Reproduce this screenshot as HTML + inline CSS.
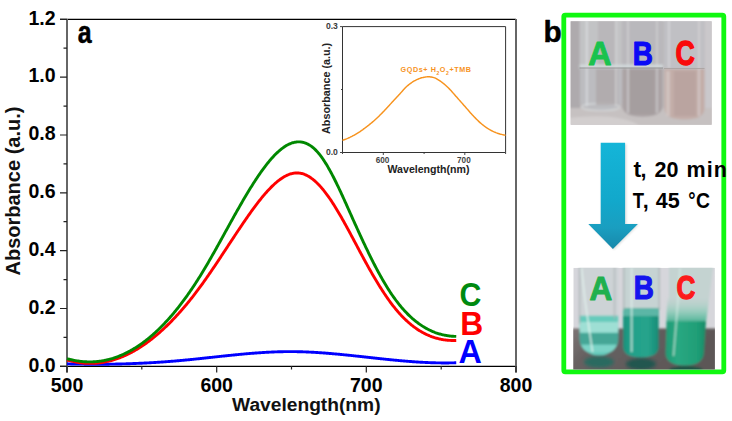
<!DOCTYPE html>
<html><head><meta charset="utf-8"><style>
html,body{margin:0;padding:0;background:#fff;}
body{width:732px;height:421px;overflow:hidden;}
svg{display:block;}
text{font-family:"Liberation Sans",sans-serif;}
</style></head><body>
<svg width="732" height="421" viewBox="0 0 732 421">
<defs>
  <linearGradient id="arrowg" x1="0" y1="0" x2="0" y2="1">
    <stop offset="0" stop-color="#14b5d8"/>
    <stop offset="0.55" stop-color="#12a8cb"/>
    <stop offset="0.8" stop-color="#1a9ec0"/>
    <stop offset="1" stop-color="#1888aa"/>
  </linearGradient>
  <filter id="blur1" x="-5%" y="-5%" width="110%" height="110%"><feGaussianBlur stdDeviation="0.8"/></filter>
  <filter id="blur2" x="-5%" y="-5%" width="110%" height="110%"><feGaussianBlur stdDeviation="1.5"/></filter>
  <clipPath id="clipTop"><rect x="570.6" y="21.3" width="141.1" height="103.5"/></clipPath>
  <clipPath id="clipBot"><rect x="573.3" y="267.8" width="141.6" height="101.8"/></clipPath>
  <linearGradient id="tableg" x1="0" y1="0" x2="1" y2="0.3">
    <stop offset="0" stop-color="#7e7676"/>
    <stop offset="0.25" stop-color="#676161"/>
    <stop offset="1" stop-color="#5b5656"/>
  </linearGradient>
  <clipPath id="clipTubeA"><path d="M579.7,315.4 H618.2 V339 C618.2,349 608,355.6 599,355.6 C590,355.6 579.7,349 579.7,339 Z"/></clipPath>
  <linearGradient id="hazeC" x1="0" y1="0" x2="0" y2="1">
    <stop offset="0" stop-color="#c4d3d1" stop-opacity="0"/>
    <stop offset="0.6" stop-color="#8ccbb8" stop-opacity="0.8"/>
    <stop offset="1" stop-color="#4fb497"/>
  </linearGradient>
  <linearGradient id="liqB" x1="0" y1="0" x2="1" y2="0">
    <stop offset="0" stop-color="#17907a"/>
    <stop offset="0.2" stop-color="#22a089"/>
    <stop offset="0.7" stop-color="#26a48c"/>
    <stop offset="1" stop-color="#168a74"/>
  </linearGradient>
  <linearGradient id="liqC" x1="0" y1="0" x2="1" y2="0">
    <stop offset="0" stop-color="#1e9a74"/>
    <stop offset="0.3" stop-color="#2aa882"/>
    <stop offset="0.8" stop-color="#1f9e76"/>
    <stop offset="1" stop-color="#178a66"/>
  </linearGradient>
</defs>
<rect width="732" height="421" fill="#fff"/>

<!-- ===== main plot ===== -->
<g fill="none" stroke-linecap="butt">
  <path d="M60,19.3 H516" stroke="#000" stroke-width="1.2"/>
  <path d="M60,366.3 H516" stroke="#000" stroke-width="1.3"/>
  <path d="M67,19 V372.5" stroke="#666" stroke-width="2"/>
  <path d="M516,19 V372.5" stroke="#666" stroke-width="2"/>
  <path d="M60,366.3 H67 M60,308.5 H67 M60,250.6 H67 M60,192.8 H67 M60,135.0 H67 M60,77.1 H67 M60,19.3 H67 M63.5,337.4 H67 M63.5,279.6 H67 M63.5,221.7 H67 M63.5,163.9 H67 M63.5,106.1 H67 M63.5,48.2 H67 M67.0,366 V372.5 M216.7,366 V372.5 M366.3,366 V372.5 M516.0,366 V372.5 M141.8,366 V369.5 M291.5,366 V369.5 M441.2,366 V369.5" stroke="#222" stroke-width="1.2"/>
</g>
<g font-weight="bold" font-size="19.5" fill="#000"><text x="55.6" y="371.6" text-anchor="end">0.0</text><text x="55.6" y="313.8" text-anchor="end">0.2</text><text x="55.6" y="255.9" text-anchor="end">0.4</text><text x="55.6" y="198.1" text-anchor="end">0.6</text><text x="55.6" y="140.3" text-anchor="end">0.8</text><text x="55.6" y="82.4" text-anchor="end">1.0</text><text x="55.6" y="24.6" text-anchor="end">1.2</text></g>
<g font-weight="bold" font-size="19.5" fill="#000"><text x="67.0" y="391.6" text-anchor="middle">500</text><text x="216.7" y="391.6" text-anchor="middle">600</text><text x="366.3" y="391.6" text-anchor="middle">700</text><text x="516.0" y="391.6" text-anchor="middle">800</text></g>
<text x="232" y="411" font-weight="bold" font-size="19.2" fill="#111">Wavelength(nm)</text>
<text transform="translate(19.9,275.5) rotate(-90)" font-weight="bold" font-size="20" fill="#111">Absorbance (a.u.)</text>

<!-- curves -->
<g fill="none" stroke-width="2.9" stroke-linejoin="round">
  <path d="M67.00,363.83 L67.75,363.85 L68.50,363.87 L69.25,363.89 L70.00,363.91 L70.75,363.93 L71.50,363.95 L72.25,363.97 L73.00,363.99 L73.75,364.00 L74.50,364.02 L75.25,364.04 L76.00,364.05 L76.75,364.07 L77.50,364.08 L78.25,364.09 L79.00,364.11 L79.75,364.12 L80.50,364.13 L81.25,364.14 L82.00,364.15 L82.75,364.16 L83.50,364.17 L84.25,364.18 L85.00,364.19 L85.75,364.20 L86.50,364.21 L87.25,364.22 L88.00,364.22 L88.75,364.23 L89.50,364.23 L90.25,364.24 L91.00,364.24 L91.75,364.25 L92.50,364.25 L93.25,364.25 L94.00,364.26 L94.75,364.26 L95.50,364.26 L96.25,364.26 L97.00,364.26 L97.75,364.26 L98.50,364.26 L99.25,364.25 L100.00,364.25 L100.75,364.25 L101.50,364.24 L102.25,364.24 L103.00,364.24 L103.75,364.23 L104.50,364.22 L105.25,364.22 L106.00,364.21 L106.75,364.20 L107.50,364.20 L108.25,364.19 L109.00,364.18 L109.75,364.17 L110.50,364.16 L111.25,364.15 L112.00,364.13 L112.75,364.12 L113.50,364.11 L114.25,364.10 L115.00,364.08 L115.75,364.07 L116.50,364.05 L117.25,364.04 L118.00,364.02 L118.75,364.00 L119.50,363.99 L120.25,363.97 L121.00,363.95 L121.75,363.93 L122.50,363.91 L123.25,363.89 L124.00,363.87 L124.75,363.85 L125.50,363.83 L126.25,363.80 L127.00,363.78 L127.75,363.76 L128.50,363.73 L129.25,363.71 L130.00,363.68 L130.75,363.65 L131.50,363.63 L132.25,363.60 L133.00,363.57 L133.75,363.54 L134.50,363.51 L135.25,363.48 L136.00,363.45 L136.75,363.42 L137.50,363.39 L138.25,363.36 L139.00,363.32 L139.75,363.29 L140.50,363.26 L141.25,363.22 L142.00,363.18 L142.75,363.15 L143.50,363.11 L144.25,363.07 L145.00,363.04 L145.75,363.00 L146.50,362.96 L147.25,362.92 L148.00,362.88 L148.75,362.84 L149.50,362.80 L150.25,362.75 L151.00,362.71 L151.75,362.67 L152.50,362.62 L153.25,362.58 L154.00,362.53 L154.75,362.49 L155.50,362.44 L156.25,362.39 L157.00,362.35 L157.75,362.30 L158.50,362.25 L159.25,362.20 L160.00,362.15 L160.75,362.10 L161.50,362.05 L162.25,361.99 L163.00,361.94 L163.75,361.89 L164.50,361.83 L165.25,361.78 L166.00,361.72 L166.75,361.67 L167.50,361.61 L168.25,361.55 L169.00,361.50 L169.75,361.44 L170.50,361.38 L171.25,361.32 L172.00,361.26 L172.75,361.20 L173.50,361.14 L174.25,361.07 L175.00,361.01 L175.75,360.95 L176.50,360.88 L177.25,360.82 L178.00,360.75 L178.75,360.69 L179.50,360.62 L180.25,360.55 L181.00,360.48 L181.75,360.41 L182.50,360.34 L183.25,360.27 L184.00,360.20 L184.75,360.13 L185.50,360.06 L186.25,359.99 L187.00,359.92 L187.75,359.84 L188.50,359.77 L189.25,359.69 L190.00,359.62 L190.75,359.54 L191.50,359.47 L192.25,359.39 L193.00,359.32 L193.75,359.24 L194.50,359.16 L195.25,359.08 L196.00,359.01 L196.75,358.93 L197.50,358.85 L198.25,358.77 L199.00,358.69 L199.75,358.61 L200.50,358.53 L201.25,358.45 L202.00,358.37 L202.75,358.29 L203.50,358.21 L204.25,358.13 L205.00,358.05 L205.75,357.97 L206.50,357.89 L207.25,357.81 L208.00,357.73 L208.75,357.65 L209.50,357.56 L210.25,357.48 L211.00,357.40 L211.75,357.32 L212.50,357.24 L213.25,357.16 L214.00,357.07 L214.75,356.99 L215.50,356.91 L216.25,356.83 L217.00,356.75 L217.75,356.67 L218.50,356.59 L219.25,356.51 L220.00,356.42 L220.75,356.34 L221.50,356.26 L222.25,356.18 L223.00,356.10 L223.75,356.02 L224.50,355.94 L225.25,355.86 L226.00,355.78 L226.75,355.71 L227.50,355.63 L228.25,355.55 L229.00,355.47 L229.75,355.39 L230.50,355.32 L231.25,355.24 L232.00,355.16 L232.75,355.09 L233.50,355.01 L234.25,354.94 L235.00,354.86 L235.75,354.79 L236.50,354.71 L237.25,354.64 L238.00,354.57 L238.75,354.49 L239.50,354.42 L240.25,354.35 L241.00,354.28 L241.75,354.21 L242.50,354.14 L243.25,354.07 L244.00,354.00 L244.75,353.93 L245.50,353.87 L246.25,353.80 L247.00,353.74 L247.75,353.67 L248.50,353.61 L249.25,353.54 L250.00,353.48 L250.75,353.42 L251.50,353.36 L252.25,353.30 L253.00,353.24 L253.75,353.18 L254.50,353.12 L255.25,353.06 L256.00,353.01 L256.75,352.95 L257.50,352.90 L258.25,352.84 L259.00,352.79 L259.75,352.74 L260.50,352.69 L261.25,352.64 L262.00,352.59 L262.75,352.54 L263.50,352.49 L264.25,352.45 L265.00,352.40 L265.75,352.36 L266.50,352.32 L267.25,352.27 L268.00,352.23 L268.75,352.19 L269.50,352.16 L270.25,352.12 L271.00,352.08 L271.75,352.05 L272.50,352.02 L273.25,351.98 L274.00,351.95 L274.75,351.92 L275.50,351.89 L276.25,351.87 L277.00,351.84 L277.75,351.82 L278.50,351.79 L279.25,351.77 L280.00,351.75 L280.75,351.73 L281.50,351.71 L282.25,351.70 L283.00,351.68 L283.75,351.67 L284.50,351.65 L285.25,351.64 L286.00,351.63 L286.75,351.63 L287.50,351.62 L288.25,351.62 L289.00,351.61 L289.75,351.61 L290.50,351.61 L291.25,351.61 L292.00,351.61 L292.75,351.62 L293.50,351.62 L294.25,351.63 L295.00,351.64 L295.75,351.65 L296.50,351.66 L297.25,351.68 L298.00,351.69 L298.75,351.71 L299.50,351.73 L300.25,351.75 L301.00,351.77 L301.75,351.79 L302.50,351.81 L303.25,351.84 L304.00,351.86 L304.75,351.89 L305.50,351.92 L306.25,351.95 L307.00,351.98 L307.75,352.01 L308.50,352.05 L309.25,352.08 L310.00,352.12 L310.75,352.15 L311.50,352.19 L312.25,352.23 L313.00,352.27 L313.75,352.32 L314.50,352.36 L315.25,352.40 L316.00,352.45 L316.75,352.49 L317.50,352.54 L318.25,352.59 L319.00,352.64 L319.75,352.69 L320.50,352.74 L321.25,352.79 L322.00,352.85 L322.75,352.90 L323.50,352.96 L324.25,353.01 L325.00,353.07 L325.75,353.13 L326.50,353.19 L327.25,353.25 L328.00,353.31 L328.75,353.37 L329.50,353.43 L330.25,353.49 L331.00,353.56 L331.75,353.62 L332.50,353.69 L333.25,353.75 L334.00,353.82 L334.75,353.89 L335.50,353.95 L336.25,354.02 L337.00,354.09 L337.75,354.16 L338.50,354.23 L339.25,354.30 L340.00,354.38 L340.75,354.45 L341.50,354.52 L342.25,354.59 L343.00,354.67 L343.75,354.74 L344.50,354.82 L345.25,354.89 L346.00,354.97 L346.75,355.04 L347.50,355.12 L348.25,355.20 L349.00,355.28 L349.75,355.35 L350.50,355.43 L351.25,355.51 L352.00,355.59 L352.75,355.67 L353.50,355.75 L354.25,355.83 L355.00,355.91 L355.75,355.99 L356.50,356.07 L357.25,356.15 L358.00,356.23 L358.75,356.31 L359.50,356.39 L360.25,356.48 L361.00,356.56 L361.75,356.64 L362.50,356.72 L363.25,356.80 L364.00,356.89 L364.75,356.97 L365.50,357.05 L366.25,357.13 L367.00,357.22 L367.75,357.30 L368.50,357.38 L369.25,357.46 L370.00,357.55 L370.75,357.63 L371.50,357.71 L372.25,357.79 L373.00,357.88 L373.75,357.96 L374.50,358.04 L375.25,358.12 L376.00,358.20 L376.75,358.28 L377.50,358.37 L378.25,358.45 L379.00,358.53 L379.75,358.61 L380.50,358.69 L381.25,358.77 L382.00,358.85 L382.75,358.93 L383.50,359.01 L384.25,359.09 L385.00,359.16 L385.75,359.24 L386.50,359.32 L387.25,359.40 L388.00,359.47 L388.75,359.55 L389.50,359.63 L390.25,359.70 L391.00,359.78 L391.75,359.85 L392.50,359.93 L393.25,360.00 L394.00,360.07 L394.75,360.15 L395.50,360.22 L396.25,360.29 L397.00,360.36 L397.75,360.43 L398.50,360.50 L399.25,360.57 L400.00,360.64 L400.75,360.70 L401.50,360.77 L402.25,360.84 L403.00,360.90 L403.75,360.97 L404.50,361.03 L405.25,361.10 L406.00,361.16 L406.75,361.22 L407.50,361.28 L408.25,361.34 L409.00,361.40 L409.75,361.46 L410.50,361.52 L411.25,361.57 L412.00,361.63 L412.75,361.68 L413.50,361.74 L414.25,361.79 L415.00,361.84 L415.75,361.89 L416.50,361.94 L417.25,361.99 L418.00,362.04 L418.75,362.09 L419.50,362.13 L420.25,362.18 L421.00,362.22 L421.75,362.26 L422.50,362.31 L423.25,362.35 L424.00,362.38 L424.75,362.42 L425.50,362.46 L426.25,362.50 L427.00,362.53 L427.75,362.56 L428.50,362.59 L429.25,362.63 L430.00,362.65 L430.75,362.68 L431.50,362.71 L432.25,362.74 L433.00,362.76 L433.75,362.78 L434.50,362.80 L435.25,362.82 L436.00,362.84 L436.75,362.86 L437.50,362.88 L438.25,362.89 L439.00,362.90 L439.75,362.91 L440.50,362.92 L441.25,362.93 L442.00,362.94 L442.75,362.94 L443.50,362.95 L444.25,362.95 L445.00,362.95 L445.75,362.95 L446.50,362.95 L447.25,362.94 L448.00,362.94 L448.75,362.93 L449.50,362.92 L450.25,362.91 L451.00,362.90 L451.75,362.88 L452.50,362.87 L453.25,362.85 L454.00,362.83 L454.75,362.81 L455.50,362.78 L456.25,362.76" stroke="#0000ff"/>
  <path d="M67.00,359.84 L67.75,360.07 L68.50,360.29 L69.25,360.51 L70.00,360.71 L70.75,360.91 L71.50,361.10 L72.25,361.28 L73.00,361.46 L73.75,361.63 L74.50,361.79 L75.25,361.94 L76.00,362.08 L76.75,362.22 L77.50,362.35 L78.25,362.48 L79.00,362.59 L79.75,362.70 L80.50,362.80 L81.25,362.89 L82.00,362.98 L82.75,363.05 L83.50,363.12 L84.25,363.19 L85.00,363.24 L85.75,363.29 L86.50,363.33 L87.25,363.36 L88.00,363.39 L88.75,363.41 L89.50,363.42 L90.25,363.42 L91.00,363.42 L91.75,363.41 L92.50,363.39 L93.25,363.36 L94.00,363.33 L94.75,363.29 L95.50,363.24 L96.25,363.18 L97.00,363.12 L97.75,363.05 L98.50,362.97 L99.25,362.89 L100.00,362.79 L100.75,362.69 L101.50,362.59 L102.25,362.47 L103.00,362.35 L103.75,362.22 L104.50,362.08 L105.25,361.94 L106.00,361.79 L106.75,361.63 L107.50,361.46 L108.25,361.29 L109.00,361.11 L109.75,360.92 L110.50,360.73 L111.25,360.53 L112.00,360.32 L112.75,360.10 L113.50,359.88 L114.25,359.65 L115.00,359.41 L115.75,359.16 L116.50,358.91 L117.25,358.65 L118.00,358.38 L118.75,358.11 L119.50,357.83 L120.25,357.54 L121.00,357.24 L121.75,356.94 L122.50,356.63 L123.25,356.31 L124.00,355.99 L124.75,355.66 L125.50,355.32 L126.25,354.97 L127.00,354.62 L127.75,354.26 L128.50,353.89 L129.25,353.52 L130.00,353.14 L130.75,352.75 L131.50,352.35 L132.25,351.95 L133.00,351.54 L133.75,351.13 L134.50,350.70 L135.25,350.27 L136.00,349.83 L136.75,349.39 L137.50,348.94 L138.25,348.48 L139.00,348.01 L139.75,347.54 L140.50,347.06 L141.25,346.57 L142.00,346.08 L142.75,345.57 L143.50,345.07 L144.25,344.55 L145.00,344.03 L145.75,343.50 L146.50,342.96 L147.25,342.42 L148.00,341.87 L148.75,341.31 L149.50,340.75 L150.25,340.18 L151.00,339.60 L151.75,339.02 L152.50,338.42 L153.25,337.82 L154.00,337.22 L154.75,336.61 L155.50,335.99 L156.25,335.36 L157.00,334.73 L157.75,334.09 L158.50,333.44 L159.25,332.79 L160.00,332.13 L160.75,331.46 L161.50,330.78 L162.25,330.10 L163.00,329.41 L163.75,328.72 L164.50,328.02 L165.25,327.31 L166.00,326.59 L166.75,325.87 L167.50,325.14 L168.25,324.41 L169.00,323.66 L169.75,322.91 L170.50,322.16 L171.25,321.39 L172.00,320.62 L172.75,319.85 L173.50,319.06 L174.25,318.27 L175.00,317.48 L175.75,316.67 L176.50,315.86 L177.25,315.05 L178.00,314.22 L178.75,313.39 L179.50,312.55 L180.25,311.71 L181.00,310.86 L181.75,310.00 L182.50,309.14 L183.25,308.27 L184.00,307.39 L184.75,306.51 L185.50,305.61 L186.25,304.72 L187.00,303.81 L187.75,302.90 L188.50,301.98 L189.25,301.06 L190.00,300.13 L190.75,299.19 L191.50,298.25 L192.25,297.30 L193.00,296.34 L193.75,295.38 L194.50,294.41 L195.25,293.43 L196.00,292.45 L196.75,291.45 L197.50,290.46 L198.25,289.45 L199.00,288.44 L199.75,287.43 L200.50,286.41 L201.25,285.38 L202.00,284.34 L202.75,283.30 L203.50,282.25 L204.25,281.20 L205.00,280.14 L205.75,279.07 L206.50,278.00 L207.25,276.93 L208.00,275.85 L208.75,274.77 L209.50,273.68 L210.25,272.59 L211.00,271.49 L211.75,270.39 L212.50,269.28 L213.25,268.18 L214.00,267.07 L214.75,265.95 L215.50,264.83 L216.25,263.71 L217.00,262.59 L217.75,261.47 L218.50,260.34 L219.25,259.21 L220.00,258.08 L220.75,256.94 L221.50,255.81 L222.25,254.67 L223.00,253.53 L223.75,252.40 L224.50,251.26 L225.25,250.12 L226.00,248.97 L226.75,247.83 L227.50,246.69 L228.25,245.55 L229.00,244.41 L229.75,243.27 L230.50,242.13 L231.25,240.99 L232.00,239.85 L232.75,238.72 L233.50,237.58 L234.25,236.45 L235.00,235.32 L235.75,234.19 L236.50,233.06 L237.25,231.93 L238.00,230.81 L238.75,229.69 L239.50,228.57 L240.25,227.45 L241.00,226.34 L241.75,225.23 L242.50,224.13 L243.25,223.02 L244.00,221.93 L244.75,220.83 L245.50,219.74 L246.25,218.66 L247.00,217.58 L247.75,216.50 L248.50,215.43 L249.25,214.37 L250.00,213.31 L250.75,212.25 L251.50,211.21 L252.25,210.17 L253.00,209.14 L253.75,208.12 L254.50,207.10 L255.25,206.09 L256.00,205.09 L256.75,204.10 L257.50,203.12 L258.25,202.15 L259.00,201.19 L259.75,200.24 L260.50,199.30 L261.25,198.37 L262.00,197.45 L262.75,196.54 L263.50,195.64 L264.25,194.76 L265.00,193.88 L265.75,193.02 L266.50,192.18 L267.25,191.34 L268.00,190.52 L268.75,189.71 L269.50,188.92 L270.25,188.14 L271.00,187.38 L271.75,186.63 L272.50,185.90 L273.25,185.18 L274.00,184.48 L274.75,183.80 L275.50,183.13 L276.25,182.48 L277.00,181.85 L277.75,181.24 L278.50,180.64 L279.25,180.06 L280.00,179.51 L280.75,178.97 L281.50,178.45 L282.25,177.96 L283.00,177.48 L283.75,177.03 L284.50,176.60 L285.25,176.19 L286.00,175.80 L286.75,175.43 L287.50,175.09 L288.25,174.77 L289.00,174.48 L289.75,174.21 L290.50,173.96 L291.25,173.74 L292.00,173.55 L292.75,173.38 L293.50,173.24 L294.25,173.12 L295.00,173.03 L295.75,172.97 L296.50,172.94 L297.25,172.93 L298.00,172.96 L298.75,173.01 L299.50,173.09 L300.25,173.20 L301.00,173.35 L301.75,173.52 L302.50,173.72 L303.25,173.95 L304.00,174.21 L304.75,174.49 L305.50,174.81 L306.25,175.15 L307.00,175.52 L307.75,175.92 L308.50,176.35 L309.25,176.80 L310.00,177.28 L310.75,177.78 L311.50,178.32 L312.25,178.87 L313.00,179.46 L313.75,180.07 L314.50,180.70 L315.25,181.36 L316.00,182.04 L316.75,182.75 L317.50,183.48 L318.25,184.23 L319.00,185.01 L319.75,185.81 L320.50,186.64 L321.25,187.48 L322.00,188.35 L322.75,189.24 L323.50,190.16 L324.25,191.09 L325.00,192.05 L325.75,193.02 L326.50,194.02 L327.25,195.04 L328.00,196.08 L328.75,197.13 L329.50,198.21 L330.25,199.30 L331.00,200.42 L331.75,201.55 L332.50,202.70 L333.25,203.86 L334.00,205.04 L334.75,206.23 L335.50,207.44 L336.25,208.67 L337.00,209.91 L337.75,211.16 L338.50,212.42 L339.25,213.70 L340.00,214.98 L340.75,216.28 L341.50,217.59 L342.25,218.91 L343.00,220.24 L343.75,221.58 L344.50,222.92 L345.25,224.28 L346.00,225.64 L346.75,227.01 L347.50,228.39 L348.25,229.77 L349.00,231.15 L349.75,232.54 L350.50,233.94 L351.25,235.34 L352.00,236.74 L352.75,238.15 L353.50,239.55 L354.25,240.96 L355.00,242.37 L355.75,243.78 L356.50,245.19 L357.25,246.60 L358.00,248.01 L358.75,249.42 L359.50,250.83 L360.25,252.23 L361.00,253.63 L361.75,255.03 L362.50,256.42 L363.25,257.80 L364.00,259.19 L364.75,260.56 L365.50,261.93 L366.25,263.30 L367.00,264.65 L367.75,266.00 L368.50,267.35 L369.25,268.68 L370.00,270.01 L370.75,271.33 L371.50,272.64 L372.25,273.94 L373.00,275.23 L373.75,276.52 L374.50,277.79 L375.25,279.06 L376.00,280.32 L376.75,281.56 L377.50,282.80 L378.25,284.02 L379.00,285.24 L379.75,286.44 L380.50,287.64 L381.25,288.82 L382.00,289.99 L382.75,291.15 L383.50,292.30 L384.25,293.43 L385.00,294.56 L385.75,295.67 L386.50,296.76 L387.25,297.85 L388.00,298.92 L388.75,299.97 L389.50,301.02 L390.25,302.05 L391.00,303.06 L391.75,304.06 L392.50,305.05 L393.25,306.02 L394.00,306.97 L394.75,307.91 L395.50,308.83 L396.25,309.74 L397.00,310.64 L397.75,311.51 L398.50,312.37 L399.25,313.22 L400.00,314.05 L400.75,314.87 L401.50,315.67 L402.25,316.46 L403.00,317.23 L403.75,317.98 L404.50,318.73 L405.25,319.45 L406.00,320.17 L406.75,320.86 L407.50,321.55 L408.25,322.22 L409.00,322.88 L409.75,323.52 L410.50,324.15 L411.25,324.76 L412.00,325.37 L412.75,325.95 L413.50,326.53 L414.25,327.09 L415.00,327.64 L415.75,328.17 L416.50,328.70 L417.25,329.21 L418.00,329.70 L418.75,330.19 L419.50,330.66 L420.25,331.12 L421.00,331.56 L421.75,332.00 L422.50,332.42 L423.25,332.83 L424.00,333.23 L424.75,333.62 L425.50,333.99 L426.25,334.35 L427.00,334.70 L427.75,335.04 L428.50,335.37 L429.25,335.69 L430.00,336.00 L430.75,336.29 L431.50,336.58 L432.25,336.85 L433.00,337.11 L433.75,337.36 L434.50,337.61 L435.25,337.84 L436.00,338.06 L436.75,338.27 L437.50,338.47 L438.25,338.66 L439.00,338.84 L439.75,339.01 L440.50,339.17 L441.25,339.32 L442.00,339.46 L442.75,339.59 L443.50,339.72 L444.25,339.83 L445.00,339.94 L445.75,340.03 L446.50,340.12 L447.25,340.20 L448.00,340.26 L448.75,340.33 L449.50,340.38 L450.25,340.42 L451.00,340.46 L451.75,340.48 L452.50,340.50 L453.25,340.51 L454.00,340.52 L454.75,340.51 L455.50,340.50 L456.25,340.48" stroke="#ff0000"/>
  <path d="M67.00,358.61 L67.75,358.82 L68.50,359.03 L69.25,359.23 L70.00,359.42 L70.75,359.60 L71.50,359.78 L72.25,359.95 L73.00,360.11 L73.75,360.27 L74.50,360.41 L75.25,360.56 L76.00,360.69 L76.75,360.82 L77.50,360.94 L78.25,361.05 L79.00,361.16 L79.75,361.26 L80.50,361.35 L81.25,361.43 L82.00,361.51 L82.75,361.58 L83.50,361.64 L84.25,361.70 L85.00,361.75 L85.75,361.79 L86.50,361.82 L87.25,361.85 L88.00,361.87 L88.75,361.88 L89.50,361.89 L90.25,361.88 L91.00,361.87 L91.75,361.86 L92.50,361.83 L93.25,361.80 L94.00,361.76 L94.75,361.71 L95.50,361.66 L96.25,361.60 L97.00,361.53 L97.75,361.45 L98.50,361.37 L99.25,361.28 L100.00,361.18 L100.75,361.07 L101.50,360.96 L102.25,360.84 L103.00,360.71 L103.75,360.57 L104.50,360.43 L105.25,360.28 L106.00,360.12 L106.75,359.95 L107.50,359.78 L108.25,359.60 L109.00,359.41 L109.75,359.21 L110.50,359.01 L111.25,358.79 L112.00,358.57 L112.75,358.35 L113.50,358.11 L114.25,357.87 L115.00,357.62 L115.75,357.36 L116.50,357.09 L117.25,356.82 L118.00,356.54 L118.75,356.25 L119.50,355.95 L120.25,355.64 L121.00,355.33 L121.75,355.01 L122.50,354.68 L123.25,354.35 L124.00,354.00 L124.75,353.65 L125.50,353.29 L126.25,352.92 L127.00,352.55 L127.75,352.16 L128.50,351.77 L129.25,351.37 L130.00,350.96 L130.75,350.55 L131.50,350.12 L132.25,349.69 L133.00,349.25 L133.75,348.81 L134.50,348.35 L135.25,347.89 L136.00,347.42 L136.75,346.94 L137.50,346.45 L138.25,345.95 L139.00,345.45 L139.75,344.94 L140.50,344.42 L141.25,343.89 L142.00,343.35 L142.75,342.81 L143.50,342.25 L144.25,341.69 L145.00,341.12 L145.75,340.55 L146.50,339.96 L147.25,339.37 L148.00,338.76 L148.75,338.15 L149.50,337.54 L150.25,336.91 L151.00,336.27 L151.75,335.63 L152.50,334.98 L153.25,334.32 L154.00,333.65 L154.75,332.97 L155.50,332.29 L156.25,331.60 L157.00,330.89 L157.75,330.18 L158.50,329.46 L159.25,328.74 L160.00,328.00 L160.75,327.26 L161.50,326.51 L162.25,325.75 L163.00,324.98 L163.75,324.20 L164.50,323.41 L165.25,322.62 L166.00,321.81 L166.75,321.00 L167.50,320.18 L168.25,319.35 L169.00,318.51 L169.75,317.67 L170.50,316.81 L171.25,315.95 L172.00,315.08 L172.75,314.20 L173.50,313.31 L174.25,312.41 L175.00,311.50 L175.75,310.59 L176.50,309.66 L177.25,308.73 L178.00,307.79 L178.75,306.84 L179.50,305.88 L180.25,304.91 L181.00,303.94 L181.75,302.95 L182.50,301.96 L183.25,300.96 L184.00,299.94 L184.75,298.92 L185.50,297.90 L186.25,296.86 L187.00,295.81 L187.75,294.75 L188.50,293.69 L189.25,292.62 L190.00,291.53 L190.75,290.44 L191.50,289.34 L192.25,288.23 L193.00,287.11 L193.75,285.99 L194.50,284.85 L195.25,283.71 L196.00,282.55 L196.75,281.39 L197.50,280.22 L198.25,279.04 L199.00,277.84 L199.75,276.65 L200.50,275.44 L201.25,274.22 L202.00,272.99 L202.75,271.76 L203.50,270.52 L204.25,269.27 L205.00,268.01 L205.75,266.74 L206.50,265.47 L207.25,264.19 L208.00,262.91 L208.75,261.62 L209.50,260.32 L210.25,259.01 L211.00,257.71 L211.75,256.39 L212.50,255.07 L213.25,253.75 L214.00,252.42 L214.75,251.09 L215.50,249.76 L216.25,248.42 L217.00,247.07 L217.75,245.73 L218.50,244.38 L219.25,243.03 L220.00,241.68 L220.75,240.32 L221.50,238.96 L222.25,237.61 L223.00,236.25 L223.75,234.89 L224.50,233.53 L225.25,232.17 L226.00,230.81 L226.75,229.44 L227.50,228.08 L228.25,226.72 L229.00,225.37 L229.75,224.01 L230.50,222.65 L231.25,221.30 L232.00,219.95 L232.75,218.60 L233.50,217.25 L234.25,215.91 L235.00,214.56 L235.75,213.23 L236.50,211.89 L237.25,210.56 L238.00,209.24 L238.75,207.92 L239.50,206.60 L240.25,205.29 L241.00,203.98 L241.75,202.68 L242.50,201.38 L243.25,200.10 L244.00,198.81 L244.75,197.54 L245.50,196.27 L246.25,195.01 L247.00,193.75 L247.75,192.50 L248.50,191.27 L249.25,190.03 L250.00,188.81 L250.75,187.60 L251.50,186.39 L252.25,185.20 L253.00,184.01 L253.75,182.84 L254.50,181.67 L255.25,180.52 L256.00,179.37 L256.75,178.24 L257.50,177.11 L258.25,176.00 L259.00,174.90 L259.75,173.82 L260.50,172.74 L261.25,171.68 L262.00,170.63 L262.75,169.59 L263.50,168.57 L264.25,167.56 L265.00,166.56 L265.75,165.58 L266.50,164.62 L267.25,163.66 L268.00,162.73 L268.75,161.81 L269.50,160.91 L270.25,160.02 L271.00,159.15 L271.75,158.30 L272.50,157.46 L273.25,156.65 L274.00,155.85 L274.75,155.07 L275.50,154.30 L276.25,153.56 L277.00,152.84 L277.75,152.14 L278.50,151.45 L279.25,150.79 L280.00,150.15 L280.75,149.53 L281.50,148.93 L282.25,148.35 L283.00,147.80 L283.75,147.26 L284.50,146.75 L285.25,146.27 L286.00,145.81 L286.75,145.37 L287.50,144.95 L288.25,144.56 L289.00,144.19 L289.75,143.85 L290.50,143.54 L291.25,143.25 L292.00,142.99 L292.75,142.75 L293.50,142.54 L294.25,142.36 L295.00,142.20 L295.75,142.07 L296.50,141.98 L297.25,141.90 L298.00,141.86 L298.75,141.85 L299.50,141.87 L300.25,141.91 L301.00,141.99 L301.75,142.10 L302.50,142.23 L303.25,142.40 L304.00,142.60 L304.75,142.84 L305.50,143.10 L306.25,143.40 L307.00,143.73 L307.75,144.09 L308.50,144.48 L309.25,144.91 L310.00,145.38 L310.75,145.88 L311.50,146.41 L312.25,146.98 L313.00,147.58 L313.75,148.22 L314.50,148.90 L315.25,149.61 L316.00,150.36 L316.75,151.14 L317.50,151.97 L318.25,152.83 L319.00,153.73 L319.75,154.66 L320.50,155.64 L321.25,156.64 L322.00,157.68 L322.75,158.76 L323.50,159.86 L324.25,161.00 L325.00,162.17 L325.75,163.37 L326.50,164.59 L327.25,165.85 L328.00,167.13 L328.75,168.44 L329.50,169.77 L330.25,171.13 L331.00,172.51 L331.75,173.92 L332.50,175.34 L333.25,176.79 L334.00,178.25 L334.75,179.74 L335.50,181.24 L336.25,182.76 L337.00,184.30 L337.75,185.85 L338.50,187.42 L339.25,189.00 L340.00,190.60 L340.75,192.20 L341.50,193.82 L342.25,195.45 L343.00,197.08 L343.75,198.73 L344.50,200.38 L345.25,202.04 L346.00,203.70 L346.75,205.37 L347.50,207.04 L348.25,208.72 L349.00,210.40 L349.75,212.08 L350.50,213.76 L351.25,215.44 L352.00,217.12 L352.75,218.79 L353.50,220.47 L354.25,222.14 L355.00,223.80 L355.75,225.46 L356.50,227.12 L357.25,228.77 L358.00,230.42 L358.75,232.06 L359.50,233.70 L360.25,235.33 L361.00,236.95 L361.75,238.57 L362.50,240.18 L363.25,241.78 L364.00,243.38 L364.75,244.96 L365.50,246.54 L366.25,248.11 L367.00,249.68 L367.75,251.23 L368.50,252.77 L369.25,254.31 L370.00,255.83 L370.75,257.35 L371.50,258.85 L372.25,260.35 L373.00,261.83 L373.75,263.30 L374.50,264.76 L375.25,266.21 L376.00,267.64 L376.75,269.06 L377.50,270.47 L378.25,271.87 L379.00,273.25 L379.75,274.62 L380.50,275.98 L381.25,277.32 L382.00,278.65 L382.75,279.96 L383.50,281.26 L384.25,282.54 L385.00,283.80 L385.75,285.05 L386.50,286.29 L387.25,287.50 L388.00,288.70 L388.75,289.89 L389.50,291.05 L390.25,292.20 L391.00,293.33 L391.75,294.44 L392.50,295.53 L393.25,296.61 L394.00,297.66 L394.75,298.70 L395.50,299.73 L396.25,300.74 L397.00,301.72 L397.75,302.70 L398.50,303.65 L399.25,304.59 L400.00,305.51 L400.75,306.42 L401.50,307.31 L402.25,308.19 L403.00,309.04 L403.75,309.89 L404.50,310.71 L405.25,311.52 L406.00,312.32 L406.75,313.10 L407.50,313.86 L408.25,314.61 L409.00,315.34 L409.75,316.06 L410.50,316.77 L411.25,317.46 L412.00,318.13 L412.75,318.80 L413.50,319.44 L414.25,320.07 L415.00,320.69 L415.75,321.30 L416.50,321.89 L417.25,322.47 L418.00,323.03 L418.75,323.58 L419.50,324.12 L420.25,324.64 L421.00,325.15 L421.75,325.65 L422.50,326.13 L423.25,326.61 L424.00,327.07 L424.75,327.51 L425.50,327.95 L426.25,328.37 L427.00,328.78 L427.75,329.18 L428.50,329.57 L429.25,329.95 L430.00,330.31 L430.75,330.66 L431.50,331.00 L432.25,331.33 L433.00,331.65 L433.75,331.95 L434.50,332.25 L435.25,332.53 L436.00,332.81 L436.75,333.07 L437.50,333.32 L438.25,333.56 L439.00,333.79 L439.75,334.01 L440.50,334.22 L441.25,334.42 L442.00,334.61 L442.75,334.79 L443.50,334.96 L444.25,335.12 L445.00,335.27 L445.75,335.41 L446.50,335.54 L447.25,335.66 L448.00,335.77 L448.75,335.87 L449.50,335.96 L450.25,336.05 L451.00,336.12 L451.75,336.19 L452.50,336.24 L453.25,336.29 L454.00,336.33 L454.75,336.36 L455.50,336.38 L456.25,336.40" stroke="#008800"/>
</g>

<!-- ===== inset ===== -->
<g fill="none">
  <path d="M342.5,26.6 H505.6 V152.5 H342.5 Z" stroke="#333" stroke-width="1"/>
  <path d="M342.5,152.5 V154.0 M383.3,152.5 V155.0 M424.1,152.5 V154.0 M464.8,152.5 V155.0 M505.6,152.5 V154.0 M340.0,152.5 H342.5 M340.0,26.6 H342.5 M341.0,89.5 H342.5" stroke="#333" stroke-width="0.9"/>
  <path d="M342.50,140.33 L343.32,140.05 L344.13,139.76 L344.95,139.45 L345.76,139.13 L346.58,138.80 L347.39,138.45 L348.21,138.10 L349.02,137.73 L349.84,137.36 L350.65,136.97 L351.47,136.57 L352.29,136.16 L353.10,135.73 L353.92,135.28 L354.73,134.82 L355.55,134.35 L356.36,133.87 L357.18,133.37 L357.99,132.87 L358.81,132.36 L359.63,131.83 L360.44,131.28 L361.26,130.72 L362.07,130.14 L362.89,129.56 L363.70,128.95 L364.52,128.35 L365.33,127.73 L366.15,127.11 L366.97,126.48 L367.78,125.85 L368.60,125.21 L369.41,124.57 L370.23,123.91 L371.04,123.25 L371.86,122.58 L372.67,121.89 L373.49,121.20 L374.30,120.49 L375.12,119.77 L375.94,119.03 L376.75,118.27 L377.57,117.50 L378.38,116.71 L379.20,115.91 L380.01,115.10 L380.83,114.29 L381.64,113.46 L382.46,112.63 L383.27,111.79 L384.09,110.95 L384.91,110.09 L385.72,109.21 L386.54,108.33 L387.35,107.44 L388.17,106.55 L388.98,105.65 L389.80,104.76 L390.61,103.86 L391.43,102.98 L392.25,102.10 L393.06,101.21 L393.88,100.33 L394.69,99.44 L395.51,98.56 L396.32,97.68 L397.14,96.79 L397.95,95.92 L398.77,95.04 L399.59,94.17 L400.40,93.28 L401.22,92.37 L402.03,91.45 L402.85,90.53 L403.66,89.61 L404.48,88.72 L405.29,87.85 L406.11,87.03 L406.92,86.27 L407.74,85.56 L408.56,84.91 L409.37,84.27 L410.19,83.65 L411.00,83.06 L411.82,82.49 L412.63,81.96 L413.45,81.45 L414.26,80.97 L415.08,80.52 L415.89,80.11 L416.71,79.72 L417.53,79.33 L418.34,78.97 L419.16,78.63 L419.97,78.31 L420.79,78.03 L421.60,77.79 L422.42,77.59 L423.23,77.42 L424.05,77.25 L424.87,77.09 L425.68,76.95 L426.50,76.85 L427.31,76.78 L428.13,76.75 L428.94,76.77 L429.76,76.84 L430.57,76.94 L431.39,77.08 L432.21,77.23 L433.02,77.41 L433.84,77.59 L434.65,77.83 L435.47,78.15 L436.28,78.56 L437.10,79.02 L437.91,79.53 L438.73,80.06 L439.54,80.61 L440.36,81.16 L441.18,81.72 L441.99,82.31 L442.81,82.95 L443.62,83.62 L444.44,84.31 L445.25,85.03 L446.07,85.77 L446.88,86.53 L447.70,87.30 L448.51,88.08 L449.33,88.89 L450.15,89.73 L450.96,90.61 L451.78,91.51 L452.59,92.43 L453.41,93.37 L454.22,94.31 L455.04,95.25 L455.85,96.18 L456.67,97.10 L457.49,98.02 L458.30,98.94 L459.12,99.86 L459.93,100.78 L460.75,101.71 L461.56,102.63 L462.38,103.56 L463.19,104.49 L464.01,105.41 L464.83,106.34 L465.64,107.27 L466.46,108.20 L467.27,109.15 L468.09,110.09 L468.90,111.04 L469.72,111.97 L470.53,112.90 L471.35,113.81 L472.16,114.70 L472.98,115.57 L473.80,116.42 L474.61,117.28 L475.43,118.12 L476.24,118.96 L477.06,119.78 L477.87,120.58 L478.69,121.37 L479.50,122.12 L480.32,122.85 L481.13,123.54 L481.95,124.21 L482.77,124.87 L483.58,125.52 L484.40,126.14 L485.21,126.75 L486.03,127.34 L486.84,127.90 L487.66,128.44 L488.47,128.94 L489.29,129.42 L490.11,129.87 L490.92,130.31 L491.74,130.74 L492.55,131.15 L493.37,131.54 L494.18,131.92 L495.00,132.27 L495.81,132.60 L496.63,132.91 L497.45,133.20 L498.26,133.46 L499.08,133.72 L499.89,133.97 L500.71,134.20 L501.52,134.42 L502.34,134.63 L503.15,134.83 L503.97,135.00 L504.78,135.16 L505.60,135.29" stroke="#f7931e" stroke-width="1.45"/>
</g>
<g font-weight="bold" font-size="8.6" fill="#3a3a3a" style="font-family:'Liberation Serif',serif">
  <text x="337.9" y="28.6" text-anchor="end">0.3</text>
  <text x="337.9" y="154.6" text-anchor="end">0.0</text>
</g>
<g font-weight="bold" font-size="8.2" fill="#444">
  <text x="382.6" y="162.8" text-anchor="middle">600</text>
  <text x="463.9" y="162.8" text-anchor="middle">700</text>
</g>
<text x="387.5" y="172.5" font-weight="bold" font-size="10.6" fill="#222">Wavelength(nm)</text>
<text transform="translate(329.5,134) rotate(-90)" font-weight="bold" font-size="10.8" fill="#222">Absorbance (a.u.)</text>
<text x="400.5" y="72.2" font-weight="bold" font-size="7.2" letter-spacing="0.6" fill="#f7931e">GQDs+ H<tspan font-size="5" dy="3.2">2</tspan><tspan dy="-3.2">O</tspan><tspan font-size="5" dy="3.2">2</tspan><tspan dy="-3.2">+TMB</tspan></text>

<!-- ===== panel b ===== -->
<rect x="563.8" y="15.05" width="160" height="356.8" fill="none" stroke="#10f810" stroke-width="4.8" rx="1.5"/>

<!-- top photo -->
<g clip-path="url(#clipTop)">
  <rect x="570.6" y="21.3" width="141.1" height="103.5" fill="#bdb8ba"/>
  <g filter="url(#blur1)">
    <rect x="568" y="18" width="12" height="110" fill="#aeaaad"/>
    <rect x="704.5" y="18" width="12" height="110" fill="#cac8cb"/>
    <rect x="568" y="108" width="150" height="20" fill="#c6c1c1"/>
    <path d="M568,118 Q620,112 640,126 H568 Z" fill="#d2cece"/>
    <!-- tube A -->
    <rect x="579.6" y="18" width="42.3" height="52" fill="#c2c3c5"/>
    <rect x="598" y="18" width="18" height="50" fill="#b6b4b7" opacity="0.8"/>
    <path d="M580,68 H621.5 V100 Q621.5,110 600.7,110 Q580,110 580,100 Z" fill="#bcbcc0"/>
    <ellipse cx="600.7" cy="107" rx="19" ry="3.5" fill="none" stroke="#d4d8da" stroke-width="1.5" opacity="0.8"/>
    <rect x="596" y="69" width="22" height="36" fill="#aba3a4" opacity="0.65"/>
    <!-- tube B -->
    <rect x="622" y="18" width="41.5" height="52" fill="#b9b8bc"/>
    <path d="M622.5,68.5 H662.5 V106 Q662.5,116.7 642.5,116.7 Q622.5,116.7 622.5,106 Z" fill="#aaa3a4"/>
    <rect x="630" y="70" width="24" height="44" fill="#a0999a" opacity="0.5"/>
    <!-- tube C -->
    <rect x="664" y="18" width="40.8" height="52" fill="#c0c0c4"/>
    <path d="M664.5,69 H704.5 V108 Q704.5,119.5 684.5,119.5 Q664.5,119.5 664.5,108 Z" fill="#c3ada8"/>
    <rect x="674" y="71" width="22" height="45" fill="#b8a19d" opacity="0.8"/>
    <rect x="666" y="71" width="4" height="45" fill="#d2c6c3" opacity="0.8"/>
    <!-- highlights -->
    <rect x="585.8" y="18" width="2" height="88" fill="#dcdfe1" opacity="0.75"/>
    <rect x="615" y="18" width="2" height="88" fill="#d8dadc" opacity="0.6"/>
    <rect x="627" y="18" width="2" height="95" fill="#d6d6d9" opacity="0.6"/>
    <rect x="656" y="18" width="2" height="95" fill="#d3d3d6" opacity="0.6"/>
    <rect x="668" y="18" width="2" height="50" fill="#dedee0" opacity="0.6"/>
    <rect x="698" y="18" width="2" height="98" fill="#d8d6d8" opacity="0.6"/>
    <!-- meniscus rings -->
    <rect x="579.6" y="64.5" width="83.5" height="3.5" fill="#d3dadb" opacity="0.9"/>
  </g>
  <path d="M579.5,68 H663" stroke="#757373" stroke-width="1" opacity="0.6"/>
  <path d="M664,68.5 H704.5" stroke="#a8a19f" stroke-width="1" opacity="0.8"/>
</g>

<!-- arrow -->
<path d="M601.5,144 H626.5 V224.5 H639 L614,250 L589.5,224.5 H601.5 Z" fill="#000" opacity="0.12" filter="url(#blur1)"/>
<path d="M600.7,142.8 H625.1 V223.9 H637.9 L612.9,249 L588.3,223.9 H600.7 Z" fill="url(#arrowg)"/>

<!-- bottom photo -->
<g clip-path="url(#clipBot)">
  <rect x="573.3" y="267.8" width="141.6" height="101.8" fill="#d6d6db"/>
  <g filter="url(#blur1)">
    <rect x="570" y="328.5" width="150" height="45" fill="url(#tableg)"/>
    <!-- tube A -->
    <rect x="579.7" y="264" width="38.5" height="55" fill="#cdd3d6"/>
    <g clip-path="url(#clipTubeA)">
    <rect x="579" y="315.4" width="40" height="41" fill="#66cbbc"/>
    <rect x="579" y="322" width="40" height="10.5" fill="#9edfd4"/>
    <rect x="579" y="333" width="40" height="11.5" fill="#44a696"/>
    <rect x="579" y="345" width="40" height="7" fill="#7ad3c6"/>
    </g>
    <ellipse cx="599" cy="362" rx="15" ry="6" fill="#2a6a60" filter="url(#blur2)"/>
    <!-- tube B -->
    <rect x="623.1" y="264" width="35.6" height="46" fill="#c6d3d3"/>
    <path d="M623.1,308 H658.7 V347 C658.7,354 652,357.5 641,357.5 C630,357.5 623.1,354 623.1,347 Z" fill="url(#liqB)"/>
    <rect x="623.1" y="308" width="35.6" height="8" fill="#5cb6a6"/>
    <ellipse cx="641" cy="364" rx="15" ry="6" fill="#215650" filter="url(#blur2)"/>
    <!-- tube C -->
    <path d="M669,264 H713.5 L709.5,296 L706,322 H666.5 L669,296 Z" fill="#c4d3d1"/>
    <path d="M667,296 H709.5 L706,322 H666.5 Z" fill="url(#hazeC)"/>
    <path d="M666.5,321.3 H706 L704,353 C703.5,361 697,365.5 685,365.5 C672,365.5 665.5,361 665.5,353 Z" fill="url(#liqC)"/>
    <ellipse cx="686" cy="370" rx="17" ry="4" fill="#1a5444"/>
    <!-- tube edges -->
    <rect x="578.8" y="264" width="1.5" height="60" fill="#a9b1b3" opacity="0.8"/>
    <rect x="613.8" y="264" width="1.5" height="55" fill="#aab1b3" opacity="0.7"/>
    <rect x="623" y="264" width="1.5" height="46" fill="#a8b0b2" opacity="0.8"/>
    <rect x="658.5" y="264" width="1.5" height="46" fill="#a8b0b2" opacity="0.8"/>
    <!-- highlights -->
    <path d="M581.5,268 L585,300 L592.5,352" stroke="#e3f3ef" stroke-width="1.6" fill="none" opacity="0.85"/>
    <path d="M631.6,268 V352" stroke="#e0f2ee" stroke-width="1.6" fill="none" opacity="0.8"/>
    <path d="M680,268 L678,300 L673.5,356" stroke="#d8efe8" stroke-width="1.5" fill="none" opacity="0.7"/>
  </g>
</g>
<text font-weight="bold" font-size="30.67" fill="#000" stroke="#000" stroke-width="0.49" stroke-linejoin="round"  transform="translate(77.87,42.50) scale(0.813,1)">a</text>
<text font-weight="bold" font-size="29.69" fill="#000" stroke="#000" stroke-width="0.50" stroke-linejoin="round"  transform="translate(543.59,41.56) scale(1.003,1)">b</text>
<text font-weight="bold" font-size="33.33" fill="#008a10"  transform="translate(459.56,305.87) scale(0.909,1)">C</text>
<text font-weight="bold" font-size="32.85" fill="#ff0000"  transform="translate(460.37,334.50) scale(0.968,1)">B</text>
<text font-weight="bold" font-size="33.14" fill="#0000ff"  transform="translate(458.39,363.40) scale(0.976,1)">A</text>
<text font-weight="bold" font-size="33.87" fill="#1ac24e" stroke="#1ac24e" stroke-width="1.05" stroke-linejoin="round"  transform="translate(588.30,64.70) scale(0.951,1)">A</text>
<text font-weight="bold" font-size="33.14" fill="#0a0af5" stroke="#0a0af5" stroke-width="1.19" stroke-linejoin="round"  transform="translate(632.84,64.50) scale(0.841,1)">B</text>
<text font-weight="bold" font-size="34.46" fill="#fa0a0a" stroke="#fa0a0a" stroke-width="1.29" stroke-linejoin="round"  transform="translate(675.40,64.66) scale(0.777,1)">C</text>
<text font-weight="bold" font-size="33.87" fill="#1fb04e" stroke="#1fb04e" stroke-width="1.08" stroke-linejoin="round"  transform="translate(589.62,299.50) scale(0.929,1)">A</text>
<text font-weight="bold" font-size="32.41" fill="#1414ee" stroke="#1414ee" stroke-width="1.16" stroke-linejoin="round"  transform="translate(633.64,299.00) scale(0.860,1)">B</text>
<text font-weight="bold" font-size="33.33" fill="#fc1a1a" stroke="#fc1a1a" stroke-width="1.27" stroke-linejoin="round"  transform="translate(676.53,299.47) scale(0.785,1)">C</text>
<text font-weight="bold" font-size="21.5" fill="#000" letter-spacing="0" transform="translate(633.52,177.3) scale(1.07,1)">t</text>
<text font-weight="bold" font-size="21.5" fill="#000" letter-spacing="0" transform="translate(640.54,177.3) scale(1.0,1)">,</text>
<text font-weight="bold" font-size="21.5" fill="#000" letter-spacing="0" transform="translate(654.55,177.3) scale(1.0,1)">20</text>
<text font-weight="bold" font-size="21.5" fill="#000" letter-spacing="1.0" transform="translate(686.58,177.3) scale(1.0,1)">min</text>
<text font-weight="bold" font-size="21.5" fill="#000" letter-spacing="0" transform="translate(632.79,207.5) scale(0.86,1)">T</text>
<text font-weight="bold" font-size="21.5" fill="#000" letter-spacing="0" transform="translate(642.84,207.5) scale(1.0,1)">,</text>
<text font-weight="bold" font-size="21.5" fill="#000" letter-spacing="0" transform="translate(655.67,207.5) scale(1.0,1)">45</text>
<text font-weight="bold" font-size="21.5" fill="#000" letter-spacing="0" transform="translate(688.20,207.5) scale(0.85,1)">°</text>
<text font-weight="bold" font-size="21.5" fill="#000" letter-spacing="0" transform="translate(695.91,207.5) scale(0.9,1)">C</text>
</svg>
</body></html>
